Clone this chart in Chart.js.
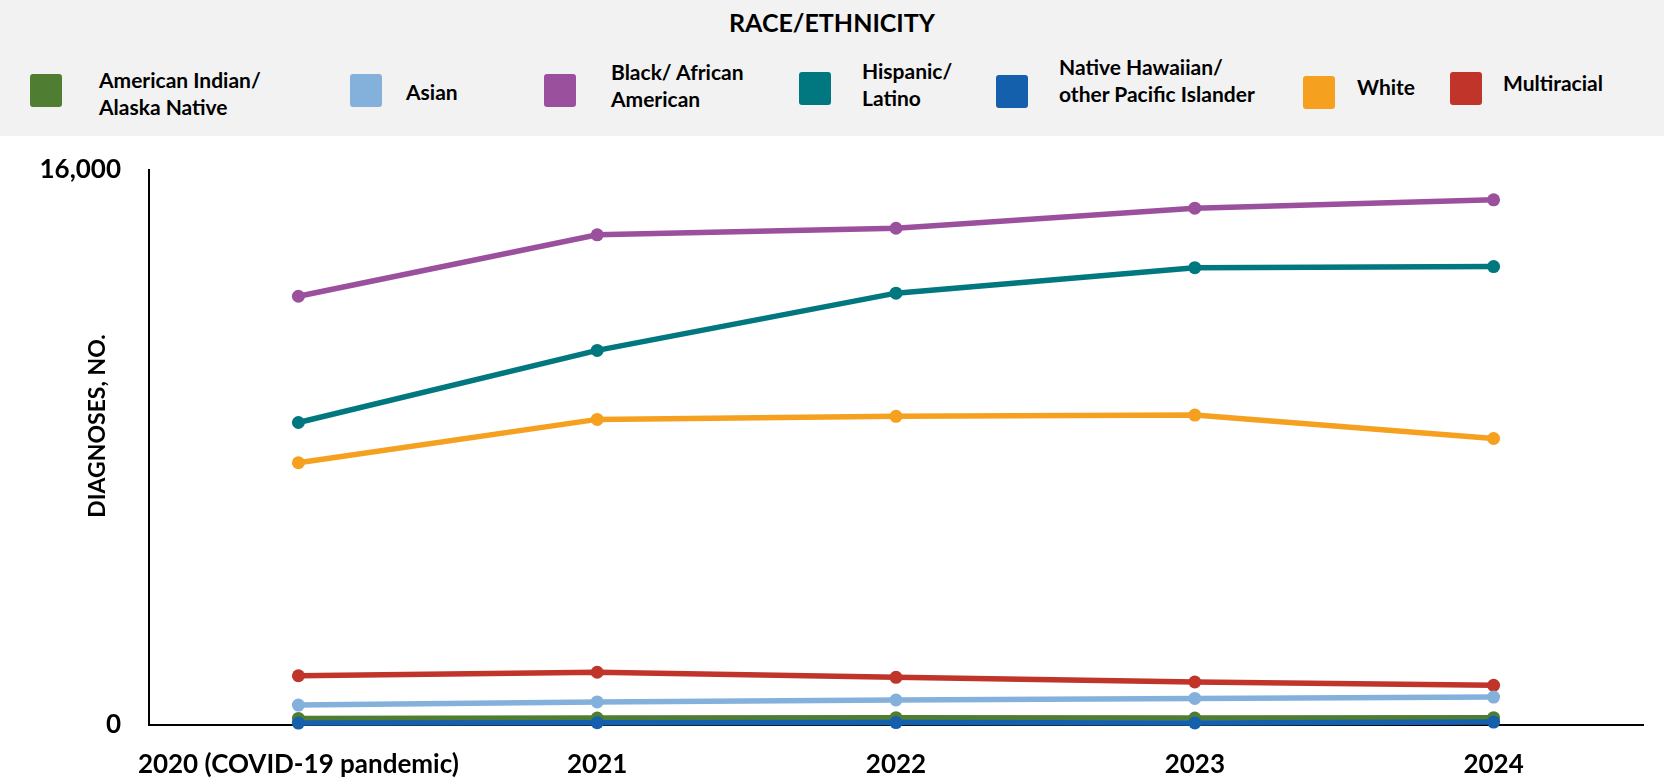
<!DOCTYPE html>
<html>
<head>
<meta charset="utf-8">
<script src="https://cdn.jsdelivr.net/npm/chart.js@4.4.1/dist/chart.umd.min.js"></script>
<style>
  html, body { margin: 0; padding: 0; background: #ffffff; }
  #wrap { position: relative; width: 1664px; height: 782px; overflow: hidden; }
  #legendBox { position: absolute; left: 0; top: 0; width: 1664px; height: 136px; background: #f2f2f2; z-index: 2; }
  #legendTitle { position: absolute; left: 0; width: 1664px; top: 7px; text-align: center;
    font: bold 25px Lato, "Open Sans", sans-serif; color: #000; }
  .sw { position: absolute; width: 32px; height: 33px; border-radius: 3px; }
  .lbl { position: absolute; font: bold 21px Lato, "Open Sans", sans-serif; color: #000; line-height: 27px; white-space: nowrap; }
  canvas { position: absolute; left: 0; top: 0; }
</style>
</head>
<body>
<div id="wrap">
  <div id="legendBox"><div id="legendTitle">RACE/ETHNICITY</div></div>
  <canvas id="c" width="1664" height="782"></canvas>
</div>
<script>
// ---- data ----
const categories = ["2020 (COVID-19 pandemic)", "2021", "2022", "2023", "2024"];
const seriesNames = ["American Indian/\nAlaska Native", "Asian", "Black/ African\nAmerican", "Hispanic/\nLatino", "Native Hawaiian/\nother Pacific Islander", "White", "Multiracial"];
const aian        = [190, 200, 210, 200, 210];
const asian       = [575, 665, 720, 765, 805];
const black       = [12360, 14130, 14320, 14900, 15140];
const hispanic    = [8720, 10800, 12450, 13185, 13215];
const nhpi        = [55, 65, 70, 60, 85];
const white       = [7560, 8810, 8900, 8935, 8260];
const multiracial = [1420, 1520, 1375, 1240, 1145];
const yTicks = [0, 16000];

// ---- styles ----
const colors = ["#4f7e33", "#84b1dc", "#9b509e", "#01787f", "#1560ad", "#f6a01f", "#c03429"];
const legendLayout = [
  { sx: 30,   sy: 74, tx: 99,   ty: 66 },
  { sx: 350,  sy: 74, tx: 406,  ty: 78 },
  { sx: 544,  sy: 74, tx: 611,  ty: 58 },
  { sx: 799,  sy: 72, tx: 862,  ty: 57 },
  { sx: 996,  sy: 75, tx: 1059, ty: 53 },
  { sx: 1303, sy: 76, tx: 1357, ty: 73 },
  { sx: 1450, sy: 72, tx: 1503, ty: 69 }
];
const allSeries = [aian, asian, black, hispanic, nhpi, white, multiracial];

// HTML legend
const box = document.getElementById('legendBox');
seriesNames.forEach((name, i) => {
  const L = legendLayout[i];
  const sw = document.createElement('div');
  sw.className = 'sw';
  sw.style.left = L.sx + 'px'; sw.style.top = L.sy + 'px'; sw.style.background = colors[i];
  box.appendChild(sw);
  const lb = document.createElement('div');
  lb.className = 'lbl';
  lb.style.left = L.tx + 'px'; lb.style.top = L.ty + 'px';
  lb.innerHTML = name.split('\n').join('<br>');
  box.appendChild(lb);
});

// lower order = drawn on top
const drawOrder = [1, 2, 5, 4, 0, 3, 6];
const datasets = allSeries.map((d, i) => ({
  label: seriesNames[i].replace('\n', ' '),
  data: d,
  borderColor: colors[i],
  backgroundColor: colors[i],
  borderWidth: 5.5,
  pointRadius: 6.5,
  pointHoverRadius: 6.5,
  pointBorderWidth: 0,
  tension: 0,
  fill: false,
  clip: false,
  order: drawOrder[i]
}));

const yTitlePlugin = {
  id: 'yTitle',
  afterDraw(chart) {
    const ctx = chart.ctx;
    ctx.save();
    ctx.translate(98, 426);
    ctx.rotate(-Math.PI / 2);
    ctx.font = 'bold 23px Lato, "Open Sans", sans-serif';
    ctx.fillStyle = '#000';
    ctx.textAlign = 'center';
    ctx.textBaseline = 'middle';
    ctx.fillText('DIAGNOSES, NO.', 0, 0);
    ctx.restore();
  }
};

new Chart(document.getElementById('c'), {
  type: 'line',
  data: { labels: categories, datasets },
  plugins: [yTitlePlugin],
  options: {
    responsive: false,
    animation: false,
    layout: { padding: { top: 170, right: 21, left: 0, bottom: 0 } },
    plugins: { legend: { display: false }, tooltip: { enabled: false }, title: { display: false } },
    scales: {
      x: {
        type: 'category',
        offset: true,
        grid: { display: false, drawTicks: false },
        border: { display: true, color: '#000', width: 2 },
        ticks: { color: '#000', font: { family: 'Lato, "Open Sans", sans-serif', size: 26, weight: 'bold' }, padding: 24, maxRotation: 0, autoSkip: false },
        afterFit(s) { s.height = 57; }
      },
      y: {
        min: 0, max: 16000,
        grid: { display: false, drawTicks: false },
        border: { display: true, color: '#000', width: 2 },
        afterBuildTicks(s) { s.ticks = yTicks.map(v => ({ value: v })); },
        ticks: {
          color: '#000',
          font: { family: 'Lato, "Open Sans", sans-serif', size: 26, weight: 'bold' },
          padding: 28,
          callback: v => v.toLocaleString('en-US')
        },
        afterFit(s) { s.width = 149; }
      }
    }
  }
});
</script>
</body>
</html>
